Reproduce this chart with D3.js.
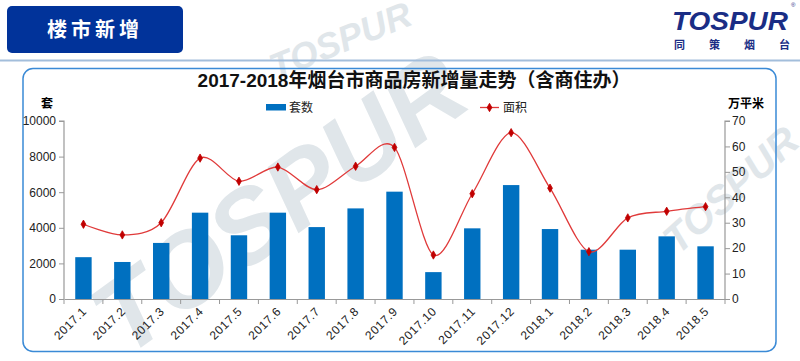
<!DOCTYPE html>
<html><head><meta charset="utf-8">
<script src="https://cdn.jsdelivr.net/npm/d3@7"></script>
<style>
html,body{margin:0;padding:0;background:#fff;}
svg{display:block;font-family:"Liberation Sans",Arial,"Noto Sans CJK SC",sans-serif;}
</style></head><body>
<script>
const categories = ["2017.1","2017.2","2017.3","2017.4","2017.5","2017.6","2017.7","2017.8","2017.9","2017.10","2017.11","2017.12","2018.1","2018.2","2018.3","2018.4","2018.5"];
const units = [2350,2080,3150,4850,3580,4850,4040,5090,6030,1510,3970,6400,3930,2770,2770,3520,2960];
const area = [29.4,25.2,30.0,55.4,46.3,51.9,43.0,52.2,59.6,17.3,41.4,65.4,43.6,18.6,31.9,34.5,36.3];
const leftTicks = [0,2000,4000,6000,8000,10000];
const rightTicks = [0,10,20,30,40,50,60,70];
const title = "2017-2018年烟台市商品房新增量走势（含商住办）";
const seriesNames = ["套数","面积"];

const W=800,H=361;
const svg=d3.select("body").append("svg").attr("width",W).attr("height",H);

// watermarks
const wm=svg.append("g").attr("fill","#e0e6ea").attr("font-weight","bold").attr("font-style","italic")
  .attr("font-family","'Liberation Sans',Arial,sans-serif");
[[300,232,-36,104],[345,52,-22,36],[740,200,-42,40]].forEach(([x,y,a,s])=>{
  wm.append("text").attr("transform",`translate(${x},${y}) rotate(${a})`).attr("text-anchor","middle")
    .attr("font-size",s).text("TOSPUR");
});

// header box
svg.append("rect").attr("x",7).attr("y",6).attr("width",176).attr("height",47).attr("rx",5).attr("fill","#01339a");
svg.append("text").attr("x",95).attr("y",37).attr("text-anchor","middle").attr("fill","#fff")
  .attr("font-size",20).attr("font-weight","bold").attr("letter-spacing",4)
  .attr("font-family","'Noto Sans CJK SC',sans-serif").text("楼市新增");

// logo
svg.append("text").attr("x",672).attr("y",30).attr("fill","#1a2d85").attr("font-size",25)
  .attr("font-weight","bold").attr("font-style","italic").attr("font-family","'Liberation Sans',Arial,sans-serif")
  .attr("textLength",116).attr("lengthAdjust","spacingAndGlyphs").text("TOSPUR");
svg.append("text").attr("x",791).attr("y",7).attr("fill","#1a2d85").attr("font-size",6).text("®");
svg.append("text").attr("x",674).attr("y",49).attr("fill","#1a2d85").attr("font-size",11).attr("font-weight","bold")
  .attr("font-family","'Noto Sans CJK SC',sans-serif").attr("textLength",116).text("同策烟台");

// separator
svg.append("line").attr("x1",0).attr("x2",800).attr("y1",60.5).attr("y2",60.5).attr("stroke","#a3bedb").attr("stroke-width",2);

// panel
svg.append("rect").attr("x",23).attr("y",68.5).attr("width",753).attr("height",283).attr("rx",10)
  .attr("fill","none").attr("stroke","#3a8ad6").attr("stroke-width",1.5);

// title
svg.append("text").attr("x",414).attr("y",87).attr("text-anchor","middle").attr("font-size",19)
  .attr("font-weight","bold").attr("fill","#111").attr("font-family","'Liberation Sans','Noto Sans CJK SC',sans-serif").text(title);

const m={l:64,r:725,t:121,b:299};
const xb=d3.scaleBand().domain(categories).range([m.l,m.r]);
const yL=d3.scaleLinear().domain([0,10000]).range([m.b,m.t]);
const yR=d3.scaleLinear().domain([0,70]).range([m.b,m.t]);

// bars
svg.append("g").selectAll("rect").data(units).join("rect")
  .attr("x",(d,i)=>xb(categories[i])+xb.bandwidth()/2-8.2).attr("width",16.4)
  .attr("y",d=>yL(d)).attr("height",d=>m.b-yL(d)).attr("fill","#0070c0");

// axes
const axisColor="#999";
const gl=svg.append("g").attr("transform",`translate(${m.l},0)`)
  .call(d3.axisLeft(yL).tickValues(leftTicks).tickFormat(d3.format("d")).tickSize(5).tickPadding(3));
const gr=svg.append("g").attr("transform",`translate(${m.r},0)`)
  .call(d3.axisRight(yR).tickValues(rightTicks).tickFormat(d3.format("d")).tickSize(5).tickPadding(2));
const gx=svg.append("g").attr("transform",`translate(0,${m.b})`)
  .call(d3.axisBottom(xb).tickSize(0).tickSizeOuter(0).tickFormat(""));
gx.selectAll(".tick").remove();
// boundary ticks
svg.append("g").selectAll("line").data(d3.range(categories.length+1)).join("line")
  .attr("x1",i=>m.l+i*xb.step()).attr("x2",i=>m.l+i*xb.step()).attr("y1",m.b).attr("y2",m.b+5)
  .attr("stroke",axisColor);
[gl,gr,gx].forEach(g=>{
  g.selectAll("path").attr("stroke",axisColor).attr("stroke-width",1.2);
  g.selectAll("line").attr("stroke",axisColor);
  g.selectAll("text").attr("font-size",12).attr("fill","#222");
});
gl.select(".domain").attr("d",`M-5,${m.t}H0V${m.b}`);
gr.select(".domain").attr("d",`M5,${m.t}H0V${m.b}`);

// x labels
svg.append("g").selectAll("text").data(categories).join("text")
  .attr("transform",d=>`translate(${xb(d)+xb.bandwidth()/2+4},${m.b+13}) rotate(-45)`)
  .attr("text-anchor","end").attr("font-size",12).attr("letter-spacing",0.6).attr("fill","#222").text(d=>d);

// line
const line=d3.line().x((d,i)=>xb(categories[i])+xb.bandwidth()/2).y(d=>yR(d)).curve(d3.curveCardinal.tension(0.1));
svg.append("path").datum(area).attr("d",line).attr("fill","none").attr("stroke","#e03a3a").attr("stroke-width",1.3);
const sym=d3.symbol().type(d3.symbolDiamond).size(20);
svg.append("g").selectAll("path").data(area).join("path")
  .attr("transform",(d,i)=>`translate(${xb(categories[i])+xb.bandwidth()/2},${yR(d)})`)
  .attr("d",sym).attr("fill","#c00000").attr("stroke","#c00000").attr("stroke-width",0.8);

// axis titles
svg.append("text").attr("x",47).attr("y",108).attr("text-anchor","middle").attr("font-size",12).attr("font-weight","bold")
  .attr("font-family","'Noto Sans CJK SC',sans-serif").text("套");
svg.append("text").attr("x",746).attr("y",108).attr("text-anchor","middle").attr("font-size",12).attr("font-weight","bold")
  .attr("font-family","'Noto Sans CJK SC',sans-serif").text("万平米");

// legend
svg.append("rect").attr("x",266).attr("y",104).attr("width",20).attr("height",6.5).attr("fill","#0070c0");
svg.append("text").attr("x",289).attr("y",112).attr("font-size",12).attr("fill","#222")
  .attr("font-family","'Noto Sans CJK SC',sans-serif").text(seriesNames[0]);
svg.append("line").attr("x1",480).attr("x2",499).attr("y1",107.5).attr("y2",107.5).attr("stroke","#e03a3a").attr("stroke-width",1.3);
svg.append("path").attr("transform","translate(489.5,107.5)").attr("d",sym).attr("fill","#c00000").attr("stroke","#c00000").attr("stroke-width",0.8);
svg.append("text").attr("x",503).attr("y",112).attr("font-size",12).attr("fill","#222")
  .attr("font-family","'Noto Sans CJK SC',sans-serif").text(seriesNames[1]);
</script>
</body></html>
